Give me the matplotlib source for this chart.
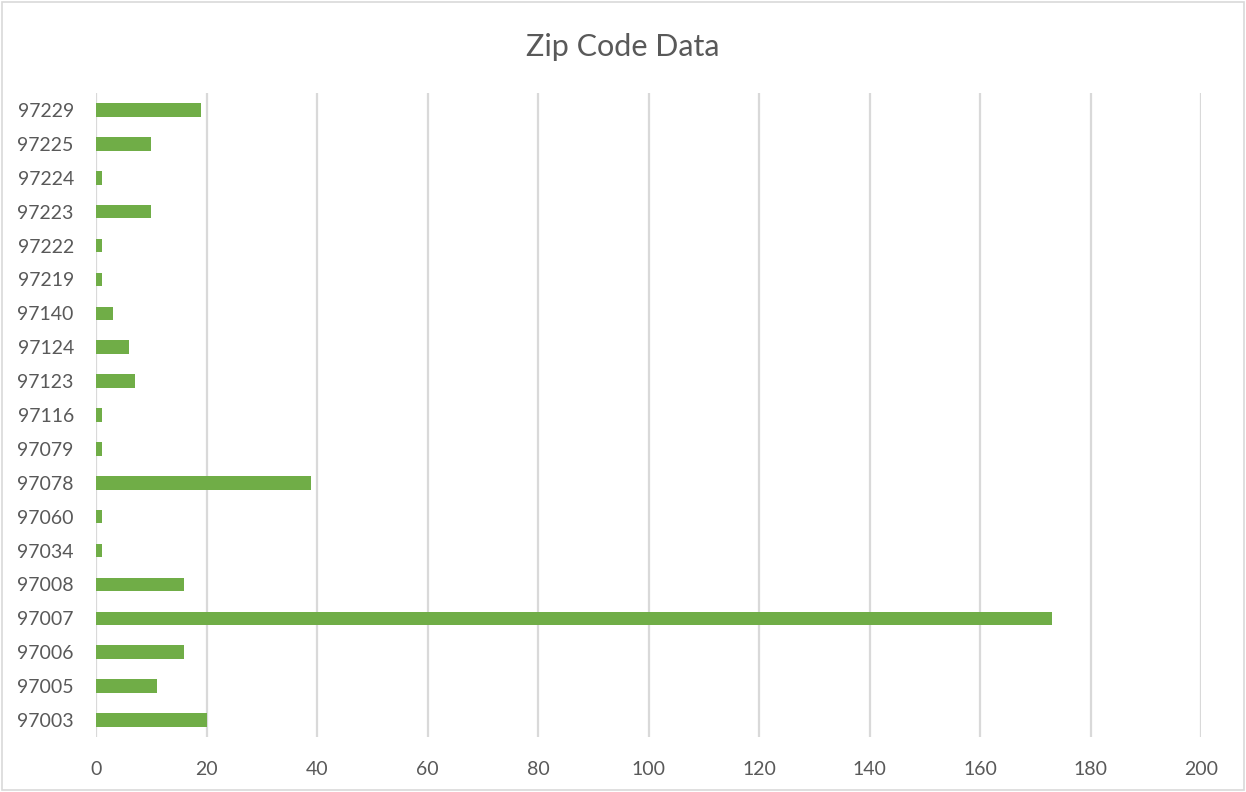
import matplotlib.pyplot as plt
from matplotlib.patches import Rectangle

# Data (bottom to top)
zip_codes = ["97003", "97005", "97006", "97007", "97008", "97034", "97060",
             "97078", "97079", "97116", "97123", "97124", "97140", "97219",
             "97222", "97223", "97224", "97225", "97229"]
counts = [20, 11, 16, 173, 16, 1, 1, 39, 1, 1, 7, 6, 3, 1, 1, 10, 1, 10, 19]
x_ticks = [0, 20, 40, 60, 80, 100, 120, 140, 160, 180, 200]

bar_color = "#70AD47"
text_color = "#595959"
grid_color = "#D9D9D9"

plt.rcParams['font.family'] = ['Lato', 'DejaVu Sans']

fig = plt.figure(figsize=(12.46, 7.92), dpi=100)
ax = fig.add_axes([96 / 1246, 1 - 737 / 792, 1105 / 1246, 644 / 792])

ypos = list(range(len(zip_codes)))
ax.barh(ypos, counts, height=0.4, color=bar_color, zorder=3)

ax.set_xlim(0, 200)
ax.set_ylim(-0.5, len(zip_codes) - 0.5)
ax.set_xticks(x_ticks)
ax.set_yticks(ypos)
ax.set_yticklabels(zip_codes)
ax.xaxis.grid(True, color=grid_color, linewidth=1.6, zorder=0)
ax.tick_params(axis='both', length=0, labelsize=14, labelcolor=text_color)
ax.tick_params(axis='x', pad=17)
ax.tick_params(axis='y', pad=16)
for s in ax.spines.values():
    s.set_visible(False)

fig.text(0.5, 1 - 47 / 792, "Zip Code Data", ha='center', va='center',
         fontsize=22, color=text_color)

# chart border
fig.patches.append(Rectangle((0.002, 0.002), 0.996, 0.996, transform=fig.transFigure,
                             fill=False, edgecolor=grid_color, linewidth=1.2))

fig.savefig("out.png", dpi=100)
